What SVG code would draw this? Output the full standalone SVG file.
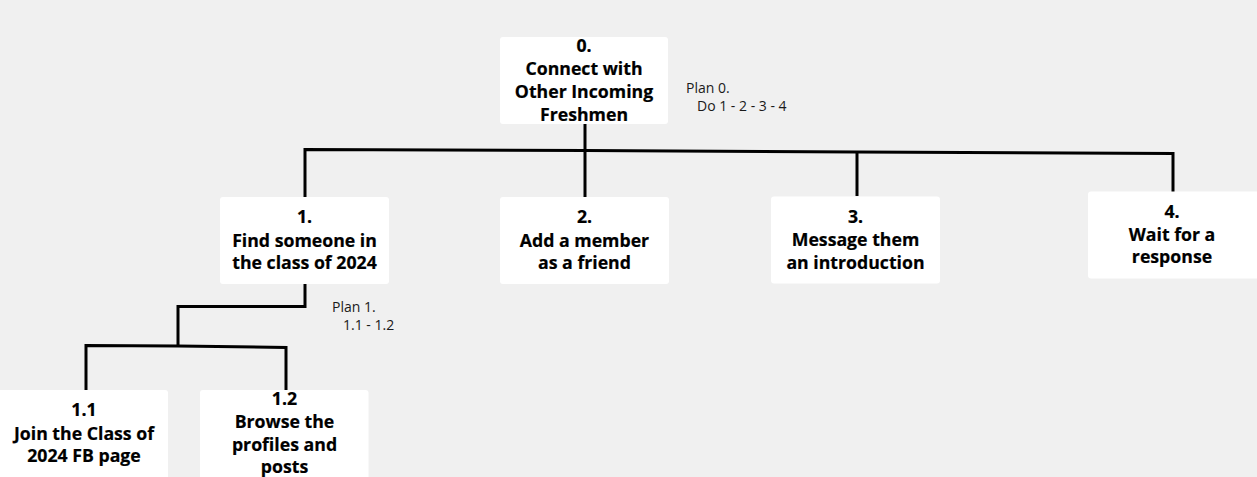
<svg xmlns="http://www.w3.org/2000/svg" width="1257" height="477" viewBox="0 0 1257 477">
<style>
.bg{fill:#f0f0f0}
.box{fill:#ffffff}
.t{font-family:"Open Sans","Noto Sans",sans-serif;font-weight:700;font-size:17.7px;fill:#000;stroke:#000;stroke-width:0.2;text-anchor:middle}
.p{font-family:"Open Sans","Noto Sans",sans-serif;font-weight:400;font-size:14px;fill:#1a1a1a}
.c{fill:none;stroke:#000;stroke-width:3;stroke-linejoin:miter}
</style>
<rect class="bg" x="0" y="0" width="1257" height="477"/>
<g id="connectors">
<line class="c" x1="585" y1="124" x2="585" y2="197"/>
<polyline class="c" points="305,197 305,149.5 585,150.5 857,152 1173,153.5 1173,192"/>
<line class="c" x1="857" y1="152" x2="857" y2="196"/>
<polyline class="c" points="305,284 305,306.5 178,306.5 178,345"/>
<polyline class="c" points="86,390 86,345.5 178,346 286,347.5 286,391"/>
</g>
<g id="node0">
<rect class="box" x="500" y="37" width="168" height="87" rx="3"/>
<text class="t" x="584" y="52">0.</text>
<text class="t" x="584" y="75">Connect with</text>
<text class="t" x="584" y="98">Other Incoming</text>
<text class="t" x="584" y="120.5">Freshmen</text>
</g>
<g id="plan0">
<text class="p" x="686" y="93">Plan 0.</text>
<text class="p" x="697" y="110.5">Do 1 - 2 - 3 - 4</text>
</g>
<g id="node1">
<rect class="box" x="220" y="197" width="169" height="87" rx="3"/>
<text class="t" x="304.5" y="223">1.</text>
<text class="t" x="304.5" y="246.5">Find someone in</text>
<text class="t" x="304.5" y="269">the class of 2024</text>
</g>
<g id="node2">
<rect class="box" x="500" y="197" width="169" height="87" rx="3"/>
<text class="t" x="584.5" y="223">2.</text>
<text class="t" x="584.5" y="246.5">Add a member</text>
<text class="t" x="584.5" y="269">as a friend</text>
</g>
<g id="node3">
<rect class="box" x="771" y="196.5" width="169" height="87" rx="3"/>
<text class="t" x="855.5" y="222.5">3.</text>
<text class="t" x="855.5" y="246">Message them</text>
<text class="t" x="855.5" y="268.5">an introduction</text>
</g>
<g id="node4">
<rect class="box" x="1088" y="191.5" width="172" height="87" rx="3"/>
<text class="t" x="1172" y="218">4.</text>
<text class="t" x="1172" y="240.5">Wait for a</text>
<text class="t" x="1172" y="263">response</text>
</g>
<g id="plan1">
<text class="p" x="332" y="312">Plan 1.</text>
<text class="p" x="343" y="330">1.1 - 1.2</text>
</g>
<g id="node1_1">
<rect class="box" x="-3" y="390" width="171" height="90" rx="3"/>
<text class="t" x="84" y="416">1.1</text>
<text class="t" x="84" y="439.5">Join the Class of</text>
<text class="t" x="84" y="462">2024 FB page</text>
</g>
<g id="node1_2">
<rect class="box" x="200" y="390" width="168.5" height="90" rx="3"/>
<text class="t" x="284.5" y="405">1.2</text>
<text class="t" x="284.5" y="428">Browse the</text>
<text class="t" x="284.5" y="450.5">profiles and</text>
<text class="t" x="284.5" y="473">posts</text>
</g>
</svg>
